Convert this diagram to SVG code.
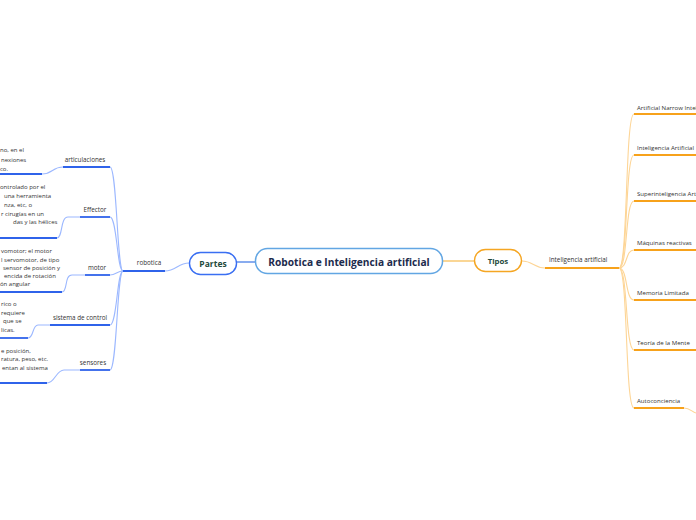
<svg xmlns="http://www.w3.org/2000/svg" width="696" height="520" viewBox="0 0 696 520">
<style>
text{font-family:"Open Sans","Noto Sans","Liberation Sans",sans-serif;}
.lbl{font-size:6.3px;fill:#333;}
.rl{font-size:6.1px;fill:#333;}
.sm{font-size:6px;fill:#333;}
.bs{stroke:#2f63ea;stroke-width:1.8;fill:none;}
.bl{stroke:#9cb8ff;stroke-width:1.1;fill:none;}
.os{stroke:#f7a21b;stroke-width:1.8;fill:none;}
.ol{stroke:#fdd596;stroke-width:1.1;fill:none;}
.tb{font-weight:bold;fill:#1f4a3c;text-anchor:middle;}
</style>
<rect width="696" height="520" fill="#fff"/>
<g id="connectors">
<line x1="237" y1="262" x2="256" y2="262" stroke="#5688e8" stroke-width="1.4"/>
<line x1="442" y1="261" x2="474" y2="261" stroke="#f8c468" stroke-width="1.4"/>
<path class="bl" d="M189,263 C178,263 176,271 165,271"/>
<path class="bl" d="M123,271 C117,271 117,167 110,167"/>
<path class="bl" d="M123,271 C117,271 117,217 110,217"/>
<path class="bl" d="M123,271 C117,271 116,275 110,275"/>
<path class="bl" d="M123,271 C117,271 117,325 110,325"/>
<path class="bl" d="M123,271 C117,271 117,370 110,370"/>
<path class="bl" d="M63,167 C52,167 53,174 42,174"/>
<path class="bl" d="M80,217 L68,217 C60,217 63,238 57,238"/>
<path class="bl" d="M85,275 L72,275 C64,275 68,292 62,292"/>
<path class="bl" d="M50,325 L38,325 C32,325 34,338 28,338"/>
<path class="bl" d="M80,370 L64,370 C56,370 55,383 47,383"/>
<path class="ol" d="M522,261 C533,261 534,268 545,268"/>
<path class="ol" d="M619,268 C628,268 625,114 634,114"/>
<path class="ol" d="M619,268 C628,268 625,155 634,155"/>
<path class="ol" d="M619,268 C628,268 625,201 634,201"/>
<path class="ol" d="M619,268 C628,268 625,250 634,250"/>
<path class="ol" d="M619,268 C628,268 625,300 634,300"/>
<path class="ol" d="M619,268 C628,268 625,350 634,350"/>
<path class="ol" d="M619,268 C628,268 625,408 634,408"/>
<path class="ol" d="M684,408 C690,408 692,412 696,413"/>
</g>
<g id="central">
<rect x="255.5" y="248.5" width="187" height="25" rx="12" fill="#fff" stroke="#62a6e3" stroke-width="1.5"/>
<text x="349" y="265.5" text-anchor="middle" font-size="10.2" font-weight="bold" fill="#1c2b4d">Robotica e Inteligencia artificial</text>
</g>
<g id="partes">
<rect x="189.5" y="252.5" width="47" height="22" rx="11" fill="#fff" stroke="#3a6ff2" stroke-width="1.4"/>
<text class="tb" x="213" y="266.5" font-size="8.5">Partes</text>
</g>
<g id="tipos">
<rect x="474.5" y="249.5" width="47" height="22" rx="11" fill="#fff" stroke="#f5a623" stroke-width="1.4"/>
<text class="tb" x="498" y="263.5" font-size="7.8">Tipos</text>
</g>
<g id="robotica">
<line class="bs" x1="123" y1="271" x2="165" y2="271"/>
<text class="lbl" x="149" y="264.5" text-anchor="middle">robotica</text>
</g>
<g id="articulaciones">
<line class="bs" x1="63" y1="167" x2="110" y2="167"/>
<text class="lbl" x="85" y="161.5" text-anchor="middle">articulaciones</text>
</g>
<g id="effector">
<line class="bs" x1="80" y1="217" x2="110" y2="217"/>
<text class="lbl" x="95" y="211.5" text-anchor="middle">Effector</text>
</g>
<g id="motor">
<line class="bs" x1="85" y1="275" x2="110" y2="275"/>
<text class="lbl" x="97" y="270" text-anchor="middle">motor</text>
</g>
<g id="sistema">
<line class="bs" x1="50" y1="325" x2="110" y2="325"/>
<text class="lbl" x="80" y="319.5" text-anchor="middle">sistema de control</text>
</g>
<g id="sensores">
<line class="bs" x1="80" y1="370" x2="110" y2="370"/>
<text class="lbl" x="93" y="365" text-anchor="middle">sensores</text>
</g>
<g id="art-desc">
<line class="bs" x1="0" y1="174" x2="42" y2="174"/>
<text class="sm" x="0" y="152">no, en el</text>
<text class="sm" x="1" y="161.5">nexiones</text>
<text class="sm" x="0" y="171">co.</text>
</g>
<g id="eff-desc">
<line class="bs" x1="0" y1="238" x2="57" y2="238"/>
<text class="sm" x="0" y="189">ontrolado por el</text>
<text class="sm" x="4" y="198">una herramienta</text>
<text class="sm" x="4" y="206.5">nza, etc, o</text>
<text class="sm" x="1" y="215.5">r cirugías en un</text>
<text class="sm" x="13" y="224">das y las hélices</text>
</g>
<g id="motor-desc">
<line class="bs" x1="0" y1="292" x2="62" y2="292"/>
<text class="sm" x="1" y="252.5">vomotor; el motor</text>
<text class="sm" x="1" y="261.5">l servomotor, de tipo</text>
<text class="sm" x="3" y="269.5">sensor de posición y</text>
<text class="sm" x="4" y="277.5">encida de rotación</text>
<text class="sm" x="0" y="285.5">ón angular</text>
</g>
<g id="sistema-desc">
<line class="bs" x1="0" y1="338" x2="28" y2="338"/>
<text class="sm" x="1" y="306">rico o</text>
<text class="sm" x="1" y="314.5">requiere</text>
<text class="sm" x="3" y="323">que se</text>
<text class="sm" x="1" y="331.5">licas.</text>
</g>
<g id="sensores-desc">
<line class="bs" x1="0" y1="383" x2="47" y2="383"/>
<text class="sm" x="1" y="352.5">e posición,</text>
<text class="sm" x="1" y="361">ratura, peso, etc.</text>
<text class="sm" x="2" y="369.5">entan al sistema</text>
</g>
<g id="ia">
<line class="os" x1="545" y1="268" x2="619" y2="268"/>
<text class="lbl" x="549" y="261.5">Inteligencia artificial</text>
</g>
<g id="narrow">
<line class="os" x1="634" y1="114" x2="696" y2="114"/>
<text class="rl" x="637" y="109.5">Artificial Narrow Intel</text>
</g>
<g id="general">
<line class="os" x1="634" y1="155" x2="696" y2="155"/>
<text class="rl" x="637" y="150">Inteligencia Artificial</text>
</g>
<g id="super">
<line class="os" x1="634" y1="201" x2="696" y2="201"/>
<text class="rl" x="637" y="196">Superinteligencia Art</text>
</g>
<g id="reactivas">
<line class="os" x1="634" y1="250" x2="696" y2="250"/>
<text class="rl" x="637" y="245">Máquinas reactivas</text>
</g>
<g id="memoria">
<line class="os" x1="634" y1="300" x2="696" y2="300"/>
<text class="rl" x="637" y="295">Memoria Limitada</text>
</g>
<g id="mente">
<line class="os" x1="634" y1="350" x2="696" y2="350"/>
<text class="rl" x="637" y="345">Teoría de la Mente</text>
</g>
<g id="autoconciencia">
<line class="os" x1="634" y1="408" x2="684" y2="408"/>
<text class="rl" x="637" y="403">Autoconciencia</text>
</g>
</svg>
